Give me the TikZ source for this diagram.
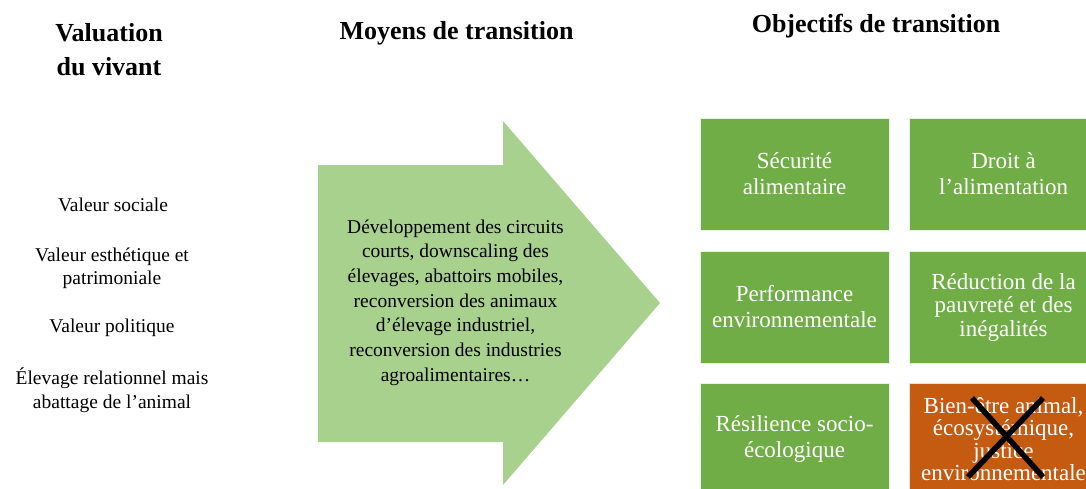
\documentclass[tikz,border=0pt]{standalone}
\usepackage{fontspec}
\setmainfont{Liberation Serif}
\definecolor{boxgreen}{HTML}{70AD47}
\definecolor{arrowgreen}{HTML}{A9D18E}
\definecolor{boxorange}{HTML}{C55A11}
\begin{document}
\begin{tikzpicture}[x=1pt,y=-1pt,
  title/.style={font=\fontsize{26}{34}\selectfont\bfseries, align=center, inner sep=0pt},
  valtext/.style={font=\fontsize{19.5}{23.5}\selectfont, align=center, inner sep=0pt},
  goalbox/.style={fill=boxgreen, draw=white!85!boxgreen, line width=0.8pt, minimum width=189pt, minimum height=112pt, inner sep=0pt, text=white, align=center, font=\fontsize{23}{26}\selectfont},
  badbox/.style={goalbox, fill=boxorange, draw=white!80!boxorange},
  cross/.style={line width=5.5pt, black}
]
\useasboundingbox (0,0) rectangle (1086,488);
\clip (0,0) rectangle (1086,488);
% titles
\node[title] (t1) at (109,50) {Valuation\\du vivant};
\node[title] (t2) at (456.5,33) {Moyens de transition};
\node[title] (t3) at (876,26) {Objectifs de transition};
% left column
\node[valtext] (v1) at (113,205) {Valeur sociale};
\node[valtext] (v2) at (112,268.5) {Valeur esthétique et\\patrimoniale};
\node[valtext] (v3) at (112,328) {Valeur politique};
\node[valtext] (v4) at (112,390) {Élevage relationnel mais\\abattage de l’animal};
% arrow
\path[fill=arrowgreen] (318,165) -- (503,165) -- (503,121) -- (660,303) -- (503,485) -- (503,442) -- (318,442) -- cycle;
\node[valtext, font=\fontsize{19.5}{24.7}\selectfont] (m) at (455.5,302.5) {Développement des circuits\\courts, downscaling des\\élevages, abattoirs mobiles,\\reconversion des animaux\\d’élevage industriel,\\reconversion des industries\\agroalimentaires…};
% goal boxes
\node[goalbox] (g1) at (794.5,174) {Sécurité\\alimentaire};
\node[goalbox] (g2) at (1003.5,174) {Droit à\\l’alimentation};
\node[goalbox] (g3) at (794.5,307) {Performance\\environnementale};
\node[goalbox, font=\fontsize{23}{23.5}\selectfont] (g4) at (1003.5,307) {Réduction de la\\pauvreté et des\\inégalités};
\node[goalbox] (g5) at (794.5,439) {Résilience socio-\\écologique};
\node[badbox, font=\fontsize{23}{22.3}\selectfont] (g6) at (1003.5,439) {Bien-être animal,\\écosystémique,\\justice\\environnementale};
\coordinate (xa) at (972,398);
\coordinate (xb) at (1043,477);
\coordinate (xc) at (1043,398);
\coordinate (xd) at (968,477);
\draw[cross] (xa) -- (xb);
\draw[cross] (xc) -- (xd);
\end{tikzpicture}
\end{document}
